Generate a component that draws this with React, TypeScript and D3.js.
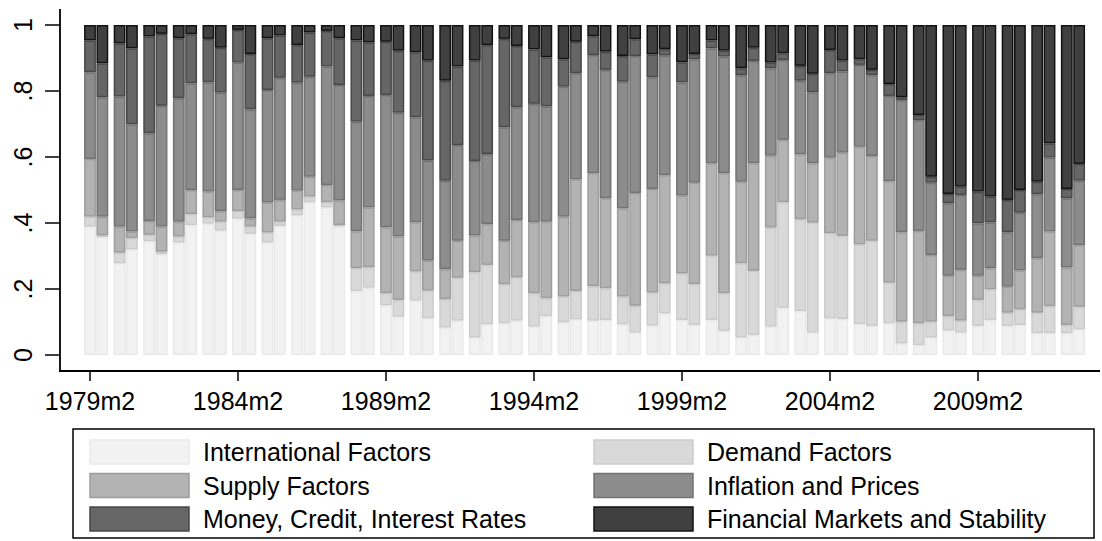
import * as d3 from "d3";

// Humphrey-Hawkins reports, February and July of each year
const periods = [
  "1979m2", "1979m7", "1980m2", "1980m7", "1981m2", "1981m7", "1982m2", "1982m7",
  "1983m2", "1983m7", "1984m2", "1984m7", "1985m2", "1985m7", "1986m2", "1986m7",
  "1987m2", "1987m7", "1988m2", "1988m7", "1989m2", "1989m7", "1990m2", "1990m7",
  "1991m2", "1991m7", "1992m2", "1992m7", "1993m2", "1993m7", "1994m2", "1994m7",
  "1995m2", "1995m7", "1996m2", "1996m7", "1997m2", "1997m7", "1998m2", "1998m7",
  "1999m2", "1999m7", "2000m2", "2000m7", "2001m2", "2001m7", "2002m2", "2002m7",
  "2003m2", "2003m7", "2004m2", "2004m7", "2005m2", "2005m7", "2006m2", "2006m7",
  "2007m2", "2007m7", "2008m2", "2008m7", "2009m2", "2009m7", "2010m2", "2010m7",
  "2011m2", "2011m7", "2012m2", "2012m7",
];

const international = [
  .389, .357, .278, .320, .345, .305, .341, .394, .398, .377,
  .413, .367, .341, .391, .423, .463, .447, .389, .194, .204,
  .151, .116, .165, .111, .083, .104, .053, .093, .096, .104,
  .086, .118, .099, .108, .104, .106, .093, .068, .089, .126,
  .106, .091, .106, .073, .053, .061, .086, .143, .133, .068,
  .111, .109, .094, .088, .096, .035, .030, .053, .074, .068,
  .088, .106, .088, .091, .066, .066, .066, .078,
];
const demand = [
  .030, .005, .032, .034, .019, .008, .018, .033, .019, .027,
  .023, .022, .030, .013, .018, .017, .016, .005, .069, .062,
  .036, .051, .088, .084, .086, .130, .198, .180, .118, .131,
  .101, .054, .078, .086, .105, .096, .084, .081, .100, .091,
  .141, .124, .195, .114, .225, .194, .300, .320, .278, .333,
  .258, .252, .241, .258, .123, .066, .066, .048, .044, .036,
  .079, .093, .040, .047, .062, .082, .025, .068,
];
const supply = [
  .175, .057, .079, .020, .042, .076, .045, .073, .078, .032,
  .064, .025, .091, .066, .057, .060, .052, .074, .112, .181,
  .200, .192, .149, .091, .091, .112, .111, .124, .132, .174,
  .215, .232, .242, .338, .342, .273, .267, .342, .314, .328,
  .236, .307, .280, .364, .247, .326, .218, .189, .197, .180,
  .229, .252, .296, .257, .308, .271, .280, .202, .122, .154,
  .073, .064, .079, .118, .165, .226, .174, .187,
];
const inflation = [
  .263, .362, .394, .325, .266, .366, .374, .323, .331, .359,
  .386, .330, .341, .370, .327, .303, .359, .350, .332, .338,
  .401, .375, .318, .303, .268, .290, .226, .212, .344, .342,
  .359, .349, .394, .322, .358, .389, .384, .415, .338, .362,
  .343, .374, .348, .353, .323, .310, .265, .242, .223, .215,
  .256, .246, .248, .245, .258, .401, .336, .219, .220, .227,
  .159, .139, .165, .175, .194, .224, .210, .195,
];
const money = [
  .096, .103, .161, .230, .293, .218, .182, .149, .132, .136,
  .099, .168, .157, .128, .114, .134, .108, .142, .246, .162,
  .161, .188, .197, .303, .303, .238, .304, .330, .268, .185,
  .165, .149, .083, .095, .057, .055, .078, .051, .070, .020,
  .061, .016, .024, .018, .021, .040, .017, .020, .045, .056,
  .070, .033, .017, .016, .036, .008, .015, .018, .028, .025,
  .096, .078, .098, .069, .038, .043, .028, .051,
];
const financial = [
  .047, .116, .056, .071, .035, .027, .040, .028, .042, .069,
  .015, .088, .040, .032, .061, .023, .018, .040, .047, .053,
  .051, .078, .083, .108, .169, .126, .108, .061, .042, .064,
  .074, .098, .104, .051, .034, .081, .094, .043, .089, .073,
  .113, .088, .047, .078, .131, .069, .114, .086, .124, .148,
  .076, .108, .104, .136, .179, .219, .273, .460, .512, .490,
  .505, .520, .530, .500, .475, .359, .497, .421,
];

const seriesNames = [
  "International Factors",
  "Demand Factors",
  "Supply Factors",
  "Inflation and Prices",
  "Money, Credit, Interest Rates",
  "Financial Markets and Stability",
];
const seriesValues = [international, demand, supply, inflation, money, financial];
const fills = ["#f2f2f2", "#d9d9d9", "#b3b3b3", "#8c8c8c", "#666666", "#404040"];
const strokes = ["#e9e9e9", "#cbcbcb", "#9d9d9d", "#727272", "#484848", "#121212"];

const xTicks = ["1979m2", "1984m2", "1989m2", "1994m2", "1999m2", "2004m2", "2009m2"];
const yTicks = [0, 0.2, 0.4, 0.6, 0.8, 1];

const W = 1102;
const H = 541;
const FONT = "'Liberation Sans', Arial, Helvetica, sans-serif";

// months since 1979m2
function monthIndex(p: string): number {
  const [y, m] = p.split("m").map(Number);
  return (y - 1979) * 12 + (m - 2);
}

const fmtY = (v: number) => (v === 0 ? "0" : v === 1 ? "1" : d3.format(".1f")(v).replace(/^0/, ""));

export default function App() {
  const rows = periods.map((p, i) => {
    const r: Record<string, number | string> = { period: p };
    seriesNames.forEach((s, k) => (r[s] = seriesValues[k][i]));
    return r;
  });
  const stacked = d3.stack<Record<string, number | string>>().keys(seriesNames)(rows as any);

  const x = d3.scaleLinear().domain([0, 360]).range([90, 978]);
  const y = d3.scaleLinear().domain([0, 1]).range([355, 25]);
  const bw = x(4.8) - x(0);

  const axisY = 371;
  const axisX = 60;

  return (
    <div style={{ position: "absolute", left: 0, top: 0 }}>
      <svg width={W} height={H} style={{ display: "block", background: "#fff" }} fontFamily={FONT}>
        {stacked.map((layer, k) => (
          <g key={layer.key} fill={fills[k]} stroke={strokes[k]} strokeWidth={1.5}>
            {layer.map((d, i) => (
              <rect
                key={i}
                x={x(monthIndex(periods[i])) - bw / 2 + 0.75}
                y={y(d[1]) + 0.75}
                width={bw - 1.5}
                height={Math.max(0, y(d[0]) - y(d[1]) - 1.5)}
              />
            ))}
          </g>
        ))}

        {/* y axis */}
        <line x1={axisX} x2={axisX} y1={9} y2={axisY + 1} stroke="#000" strokeWidth={1.8} />
        {yTicks.map((t) => (
          <g key={t} transform={`translate(${axisX},${y(t)})`}>
            <line x1={-15} x2={0} stroke="#000" strokeWidth={1.5} />
            <text transform="translate(-28,0) rotate(-90)" textAnchor="middle" fontSize={25} fill="#000">
              {fmtY(t)}
            </text>
          </g>
        ))}

        {/* x axis */}
        <line x1={axisX - 1} x2={1100} y1={axisY} y2={axisY} stroke="#000" strokeWidth={1.8} />
        {xTicks.map((t) => (
          <g key={t} transform={`translate(${x(monthIndex(t))},${axisY})`}>
            <line y1={0} y2={10} stroke="#000" strokeWidth={1.5} />
            <text y={39} textAnchor="middle" fontSize={25} fill="#000">
              {t}
            </text>
          </g>
        ))}

        {/* legend */}
        <rect x={73} y={429} width={1021} height={109} fill="#fff" stroke="#000" strokeWidth={1.5} />
        {seriesNames.map((s, k) => {
          const col = k % 2;
          const row = Math.floor(k / 2);
          const lx = col === 0 ? 90 : 594;
          const ly = 440 + row * 33.5;
          return (
            <g key={s}>
              <rect x={lx} y={ly} width={99} height={24} fill={fills[k]} stroke={strokes[k]} strokeWidth={1.5} />
              <text x={lx + 113} y={ly + 12} dominantBaseline="central" fontSize={25} fill="#000">
                {s}
              </text>
            </g>
          );
        })}
      </svg>
    </div>
  );
}
